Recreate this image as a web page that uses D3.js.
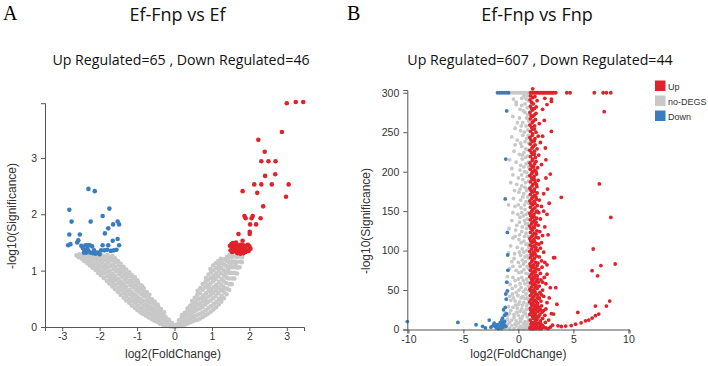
<!DOCTYPE html>
<html>
<head>
<meta charset="utf-8">
<script src="https://cdn.jsdelivr.net/npm/d3@7"></script>
<style>
  body { margin: 0; background: #fff; }
  svg { display: block; }
</style>
</head>
<body>
<svg width="708" height="366"></svg>
<script>
// ---- Panel A: Ef-Fnp vs Ef, points [log2FC, -log10(p)] ----
const upA = [
  [3.00,3.97],[3.24,3.99],[3.44,3.99],[2.87,3.46],[2.24,3.32],[2.41,3.11],[2.32,2.94],[2.51,2.94],[2.70,2.94],
  [2.42,2.68],[2.69,2.71],[1.82,2.41],[2.13,2.53],[2.32,2.53],[2.60,2.53],[3.05,2.53],[2.21,2.38],[2.98,2.31],
  [2.37,2.14],[1.87,1.97],[1.90,1.93],[2.09,1.97],[2.06,1.93],[2.30,1.93],[2.02,1.82],[2.18,1.82],[2.01,1.69],
  [2.01,1.65],[1.71,1.65],[1.82,1.53],
  [1.48,1.44],[1.52,1.47],[1.55,1.42],[1.58,1.46],[1.62,1.43],[1.66,1.47],[1.70,1.44],[1.73,1.40],[1.77,1.46],
  [1.80,1.42],[1.84,1.45],[1.88,1.41],[1.92,1.44],[1.96,1.46],[2.00,1.43],[1.50,1.36],[1.54,1.33],[1.58,1.37],
  [1.62,1.34],[1.66,1.38],[1.70,1.33],[1.74,1.36],[1.78,1.32],[1.82,1.35],[1.86,1.38],[1.90,1.33],[1.94,1.36],
  [1.98,1.35],[2.03,1.39],[1.60,1.40],[1.68,1.31],[1.76,1.30],[1.84,1.31],[1.56,1.49],[1.64,1.50]
];
const downA = [
  [-2.30,2.45],[-2.13,2.41],[-2.81,2.08],[-1.74,2.10],[-2.75,1.87],[-2.24,1.87],[-1.92,1.97],[-1.77,1.75],
  [-1.64,1.82],[-1.52,1.87],[-1.48,1.82],[-1.86,1.66],[-2.81,1.64],[-2.53,1.64],[-2.57,1.54],[-2.60,1.50],
  [-1.65,1.53],[-1.52,1.56],[-2.84,1.45],[-2.78,1.47],[-2.49,1.44],[-2.38,1.45],[-2.32,1.45],[-2.26,1.45],
  [-2.20,1.43],[-1.92,1.45],[-1.77,1.45],[-1.48,1.45],[-2.40,1.36],[-2.36,1.32],[-2.30,1.35],[-2.25,1.32],
  [-2.18,1.31],[-2.11,1.30],[-2.05,1.32],[-1.96,1.36],[-1.87,1.36],[-1.80,1.37],[-1.70,1.35],[-1.62,1.36],
  [-1.55,1.37],[-2.45,1.40],[-2.33,1.39],[-2.15,1.36],[-2.42,1.32],[-2.00,1.29]
];
const noneA = [
  [-2.62,1.27],[-2.56,1.24],[-2.54,1.29],[-2.48,1.21],[-2.46,1.27],[-2.41,1.17],[-2.39,1.24],[-2.37,1.29],
  [-2.33,1.13],[-2.31,1.20],[-2.30,1.26],[-2.26,1.09],[-2.25,1.16],[-2.23,1.23],[-2.24,1.29],
  [-2.19,1.05],[-2.18,1.12],[-2.16,1.20],[-2.17,1.27],[-2.11,1.01],[-2.10,1.08],[-2.09,1.15],[-2.08,1.22],[-2.10,1.28],
  [-2.04,0.96],[-2.03,1.03],[-2.02,1.10],[-2.01,1.18],[-2.03,1.25],
  [-1.97,0.92],[-1.96,0.99],[-1.95,1.07],[-1.94,1.14],[-1.96,1.21],[-1.95,1.28],
  [-1.89,0.87],[-1.88,0.95],[-1.87,1.02],[-1.86,1.10],[-1.88,1.18],[-1.87,1.25],
  [-1.81,0.82],[-1.80,0.90],[-1.79,0.98],[-1.80,1.06],[-1.78,1.14],[-1.81,1.21],[-1.79,1.28],
  [-1.74,0.77],[-1.73,0.84],[-1.72,0.92],[-1.73,1.00],[-1.71,1.08],[-1.74,1.16],[-1.72,1.23],
  [-1.66,0.72],[-1.65,0.80],[-1.64,0.87],[-1.66,0.95],[-1.63,1.03],[-1.65,1.11],[-1.64,1.19],[-1.66,1.26],
  [-1.59,0.67],[-1.58,0.75],[-1.57,0.83],[-1.59,0.91],[-1.56,0.99],[-1.58,1.07],[-1.57,1.15],[-1.59,1.22],
  [-1.51,0.62],[-1.50,0.70],[-1.49,0.78],[-1.51,0.86],[-1.48,0.94],[-1.50,1.02],[-1.49,1.10],[-1.51,1.17],
  [-1.44,0.57],[-1.43,0.65],[-1.42,0.73],[-1.44,0.81],[-1.41,0.89],[-1.43,0.97],[-1.42,1.05],[-1.44,1.12],
  [-1.36,0.52],[-1.35,0.60],[-1.34,0.68],[-1.36,0.76],[-1.33,0.84],[-1.35,0.92],[-1.34,1.00],[-1.36,1.07],
  [-1.29,0.47],[-1.28,0.55],[-1.27,0.63],[-1.29,0.71],[-1.26,0.79],[-1.28,0.87],[-1.27,0.95],[-1.29,1.02],
  [-1.21,0.43],[-1.20,0.50],[-1.19,0.58],[-1.21,0.66],[-1.18,0.74],[-1.20,0.82],[-1.19,0.90],[-1.21,0.97],
  [-1.14,0.38],[-1.13,0.46],[-1.12,0.54],[-1.14,0.62],[-1.11,0.70],[-1.13,0.78],[-1.12,0.86],[-1.14,0.92],
  [-1.06,0.34],[-1.05,0.42],[-1.04,0.50],[-1.06,0.58],[-1.03,0.66],[-1.05,0.74],[-1.04,0.82],[-1.06,0.88],
  [-0.99,0.30],[-0.98,0.38],[-0.97,0.46],[-0.99,0.54],[-0.96,0.62],[-0.98,0.70],[-0.97,0.78],[-0.99,0.83],
  [-0.91,0.26],[-0.90,0.34],[-0.89,0.42],[-0.91,0.50],[-0.88,0.58],[-0.90,0.66],[-0.89,0.74],
  [-0.84,0.23],[-0.83,0.30],[-0.82,0.38],[-0.84,0.46],[-0.81,0.54],[-0.83,0.62],[-0.82,0.68],
  [-0.76,0.20],[-0.75,0.27],[-0.74,0.34],[-0.76,0.41],[-0.73,0.48],[-0.75,0.56],[-0.74,0.62],
  [-0.69,0.17],[-0.68,0.24],[-0.67,0.31],[-0.69,0.38],[-0.66,0.45],[-0.68,0.52],[-0.67,0.57],
  [-0.61,0.14],[-0.60,0.21],[-0.59,0.28],[-0.61,0.35],[-0.58,0.42],[-0.60,0.49],
  [-0.54,0.11],[-0.53,0.18],[-0.52,0.25],[-0.54,0.32],[-0.51,0.39],[-0.53,0.45],
  [-0.46,0.09],[-0.45,0.15],[-0.44,0.22],[-0.46,0.29],[-0.43,0.35],[-0.45,0.40],
  [-0.39,0.06],[-0.38,0.12],[-0.37,0.19],[-0.39,0.26],[-0.36,0.32],
  [-0.31,0.04],[-0.30,0.10],[-0.29,0.16],[-0.31,0.22],[-0.28,0.26],
  [-0.24,0.03],[-0.23,0.08],[-0.22,0.13],[-0.24,0.18],
  [-0.16,0.02],[-0.15,0.06],[-0.14,0.10],[-0.16,0.13],
  [-0.09,0.01],[-0.08,0.04],[-0.07,0.07],[-0.01,0.00],[0.00,0.03],
  [-2.05,1.21],[-1.69,0.88],[-1.46,1.01],[-1.31,0.58],[-1.16,0.81],[-0.94,0.47],[-0.79,0.59],[-0.56,0.27],
  [-1.87,1.06],[-1.53,0.66],[-1.24,0.91],[-1.09,0.47],[-0.86,0.72],[-0.64,0.33],[-2.22,1.19],[-1.4,0.77],
  [0.06,0.01],[0.07,0.05],[0.13,0.02],[0.14,0.07],[0.12,0.12],
  [0.20,0.03],[0.21,0.09],[0.19,0.16],[0.20,0.21],
  [0.27,0.04],[0.28,0.11],[0.26,0.18],[0.27,0.25],
  [0.34,0.06],[0.35,0.13],[0.33,0.20],[0.34,0.27],[0.35,0.33],
  [0.41,0.08],[0.42,0.15],[0.40,0.22],[0.41,0.30],[0.42,0.38],
  [0.48,0.10],[0.49,0.17],[0.47,0.25],[0.48,0.33],[0.49,0.40],[0.47,0.46],
  [0.55,0.12],[0.56,0.20],[0.54,0.28],[0.55,0.36],[0.56,0.44],[0.54,0.52],
  [0.62,0.13],[0.63,0.22],[0.61,0.31],[0.62,0.40],[0.63,0.49],[0.61,0.57],[0.62,0.64],
  [0.69,0.15],[0.70,0.24],[0.68,0.33],[0.69,0.42],[0.70,0.51],[0.68,0.60],[0.69,0.69],
  [0.76,0.18],[0.77,0.27],[0.75,0.36],[0.76,0.46],[0.77,0.56],[0.75,0.66],[0.76,0.76],
  [0.83,0.21],[0.84,0.30],[0.82,0.40],[0.83,0.50],[0.84,0.60],[0.82,0.70],[0.83,0.80],[0.84,0.87],
  [0.90,0.24],[0.91,0.34],[0.89,0.44],[0.90,0.54],[0.91,0.64],[0.89,0.74],[0.90,0.84],[0.91,0.93],
  [0.97,0.27],[0.98,0.37],[0.96,0.47],[0.97,0.57],[0.98,0.67],[0.96,0.77],[0.97,0.87],[0.98,0.97],[0.96,1.03],
  [1.04,0.31],[1.05,0.41],[1.03,0.51],[1.04,0.61],[1.05,0.71],[1.03,0.81],[1.04,0.91],[1.05,1.01],[1.03,1.09],
  [1.11,0.35],[1.12,0.45],[1.10,0.55],[1.11,0.65],[1.12,0.75],[1.10,0.85],[1.11,0.95],[1.12,1.05],[1.10,1.13],
  [1.18,0.40],[1.19,0.50],[1.17,0.60],[1.18,0.70],[1.19,0.80],[1.17,0.90],[1.18,1.00],[1.19,1.10],[1.17,1.17],
  [1.25,0.45],[1.26,0.55],[1.24,0.65],[1.25,0.75],[1.26,0.85],[1.24,0.95],[1.25,1.05],[1.26,1.14],[1.24,1.21],
  [1.32,0.51],[1.33,0.61],[1.31,0.71],[1.32,0.81],[1.33,0.91],[1.31,1.01],[1.32,1.11],[1.33,1.20],
  [1.39,0.58],[1.40,0.68],[1.38,0.78],[1.39,0.88],[1.40,0.98],[1.38,1.08],[1.39,1.17],[1.40,1.24],
  [1.46,0.66],[1.47,0.76],[1.45,0.86],[1.46,0.96],[1.47,1.06],[1.45,1.15],[1.46,1.23],[1.47,1.28],
  [1.53,0.76],[1.54,0.86],[1.52,0.96],[1.53,1.06],[1.54,1.16],[1.52,1.24],[1.53,1.30],
  [1.60,0.86],[1.61,0.96],[1.59,1.06],[1.60,1.16],[1.61,1.25],
  [1.67,0.95],[1.68,1.05],[1.66,1.15],[1.67,1.24],[1.68,1.30],
  [1.74,1.06],[1.75,1.16],[1.73,1.25],[1.80,1.15],[1.81,1.24],
  [0.58,0.31],[0.79,0.51],[0.93,0.69],[1.07,0.86],[1.21,1.05],[1.36,0.96],[1.5,1.11],[0.86,0.45],
  [1.0,0.62],[1.15,0.7],[1.29,0.66],[1.43,1.02],[0.72,0.38],[1.63,1.11],[0.44,0.19],[1.22,0.48]
];

// ---- Panel B: Ef-Fnp vs Fnp ----
const upB = [
  // top row (capped at 300)
  [1.10,300],[1.25,300],[1.40,300],[1.55,300],[1.70,300],[1.85,300],[2.00,300],[2.15,300],[2.30,300],[2.45,300],
  [2.60,300],[2.75,300],[2.90,300],[3.05,300],[3.20,300],[3.40,300],[4.40,300],[4.70,300],[6.90,300],[7.70,300],
  [8.00,300],[8.40,300],[1.30,305],
  // main band
  [1.05,2],[1.20,4],[1.35,1],[1.50,3],[1.65,5],[1.80,2],[1.95,4],[2.10,1],[2.30,3],[2.50,2],[2.70,1],[2.90,3],
  [1.08,12],[1.22,9],[1.38,14],[1.52,10],[1.68,13],[1.85,8],[2.00,11],[2.20,14],[2.45,9],[2.75,12],
  [1.04,19],[1.18,22],[1.32,18],[1.47,21],[1.62,17],[1.78,23],[1.95,19],[2.15,22],[2.40,18],[3.00,20],
  [1.10,27],[1.25,30],[1.40,26],[1.56,29],[1.72,31],[1.90,27],[2.10,30],[2.50,26],
  [1.03,35],[1.17,38],[1.33,34],[1.48,37],[1.64,35],[1.82,39],[2.05,36],[2.60,34],
  [1.08,43],[1.24,46],[1.40,42],[1.58,45],[1.76,44],[1.96,47],[2.30,42],
  [1.05,51],[1.20,54],[1.36,50],[1.52,53],[1.70,52],[1.90,55],[2.20,50],[2.90,53],
  [1.10,59],[1.27,62],[1.43,58],[1.60,61],[1.80,60],[2.05,63],[2.50,58],
  [1.04,67],[1.20,70],[1.36,66],[1.53,69],[1.72,68],[2.00,71],[2.35,66],
  [1.09,75],[1.25,78],[1.42,74],[1.60,77],[1.85,76],[2.15,79],
  [1.05,83],[1.20,86],[1.38,82],[1.56,85],[1.78,84],[2.10,87],[2.60,82],
  [1.10,91],[1.28,94],[1.45,90],[1.65,93],[1.90,92],[3.20,91],
  [1.04,99],[1.20,102],[1.37,98],[1.55,101],[1.75,100],[2.00,103],[2.30,98],
  [1.08,107],[1.25,110],[1.43,106],[1.62,109],[1.85,108],
  [1.05,115],[1.22,118],[1.40,114],[1.60,117],[1.82,116],[2.20,119],
  [1.10,123],[1.28,126],[1.47,122],[1.68,125],[1.95,124],
  [1.04,131],[1.20,134],[1.38,130],[1.57,133],[1.80,132],[2.40,130],
  [1.08,139],[1.26,142],[1.45,138],[1.66,141],[2.00,140],
  [1.05,147],[1.22,150],[1.40,146],[1.60,149],[1.85,148],[2.60,146],
  [1.10,155],[1.30,158],[1.50,154],[1.72,157],[2.10,156],
  [1.04,163],[1.22,166],[1.42,162],[1.63,165],[1.90,164],
  [1.08,171],[1.27,174],[1.48,170],[1.70,173],[2.30,172],
  [1.05,179],[1.24,182],[1.45,178],[1.68,181],[2.65,178],
  [1.10,187],[1.30,190],[1.52,186],[1.80,189],
  [1.04,195],[1.22,198],[1.43,194],[1.65,197],[2.50,192],[2.90,197],
  [1.08,203],[1.28,206],[1.50,202],[1.75,205],
  [1.05,211],[1.25,214],[1.47,210],[2.10,209],
  [1.10,219],[1.32,222],[1.55,218],[1.85,221],
  [1.04,227],[1.24,230],[1.46,226],[1.70,229],
  [1.08,235],[1.30,238],[1.52,234],[2.00,237],
  [1.05,243],[1.26,246],[1.50,242],[1.80,245],
  [1.10,251],[1.32,254],[1.60,250],[3.00,251],
  [1.04,259],[1.25,262],[1.48,258],[1.90,261],
  [1.08,267],[1.30,270],[1.55,266],
  [1.05,275],[1.28,278],[1.60,274],[2.20,279],
  [1.10,283],[1.35,286],[1.62,282],
  [1.06,291],[1.30,294],[1.70,290],[2.40,293],[3.00,292],[3.00,289],
  // second pass over the band
  [1.15,7],[1.42,8],[1.28,16],[1.55,15],[1.12,25],[1.35,23],[1.60,25],[1.85,16],[2.00,25],[1.20,32],[1.45,31],
  [1.75,33],[1.30,40],[1.12,49],[1.50,48],[1.90,40],[1.32,57],[1.60,56],[1.18,64],[1.45,65],[1.75,64],[1.30,72],
  [1.55,73],[1.13,80],[1.40,79],[1.70,81],[1.30,88],[1.15,95],[1.50,96],[1.30,105],[1.60,104],[1.12,112],
  [1.45,112],[1.32,120],[1.60,121],[1.15,128],[1.45,129],[1.30,136],[1.60,136],[1.12,144],[1.42,143],[1.30,152],
  [1.70,150],[1.15,160],[1.50,160],[1.32,168],[1.60,168],[1.15,176],[1.45,175],[1.32,184],[1.62,184],[1.18,192],
  [1.45,190],[1.30,200],[1.60,200],[1.15,208],[1.38,206],[1.30,216],[1.60,213],[1.18,224],[1.45,222],[1.35,232],
  [1.15,240],[1.45,239],[1.30,248],[1.20,256],[1.45,254],[1.35,264],[1.15,271],[1.45,272],[1.20,280],[1.45,280],
  [1.20,288],[1.50,295],[1.10,296],
  [2.20,60],[2.40,85],[2.70,120],[2.30,150],[2.80,160],[2.50,215],[2.20,245],[2.35,265],[2.60,285],[2.80,40],
  [2.60,70],[2.10,110],[2.45,230],
  [1.10,1],[1.30,3],[1.60,1],[1.90,1],[2.20,5],[1.70,8],[1.45,5],[1.25,1],[2.05,7],[1.55,20],[1.85,28],[2.30,24],
  [1.70,40],[2.10,44],
  // far right
  [7.80,276],[7.36,184.5],[3.90,167.5],[8.40,142],[6.80,102],[8.80,83],[7.50,81],[6.70,74.5],[7.20,68],
  [8.30,36],[8.00,29.7],[7.00,29.7],[5.40,21.6],[7.30,19.5],[7.00,17.5],[6.70,14.5],[6.40,12],[6.10,11],
  [5.70,8.5],[5.20,6.8],[4.80,5],[4.30,4.3],[3.90,3.8],[3.60,4.6],[3.10,5.5],[3.30,91],[3.40,53],[3.50,32],[3.20,19.5]
];
const downB = [
  [-1.90,300],[-1.70,300],[-1.50,300],[-1.30,300],[-1.10,300],[-0.90,300],
  [-1.06,277],[-1.15,216],[-1.20,165.5],[-1.00,123],[-0.97,94.4],[-1.05,60],[-0.95,75],[-1.00,49],[-1.15,45],
  [-1.10,38.6],[-1.20,28],[-1.35,25],[-1.10,20],[-1.25,18],[-1.45,14.5],[-1.50,12],[-1.25,10],[-1.40,8],
  [-1.30,6],[-1.15,4],[-1.40,3],[-1.55,2],[-1.60,5],[-1.65,9],[-1.70,3],[-1.80,1],[-1.90,6],[-2.00,2],
  [-2.10,4],[-2.20,8],[-2.30,5],[-2.50,3],[-2.65,12],[-3.00,2],[-3.25,4],[-3.85,6],[-5.50,9],[-10.1,10]
];
const noneB = [
  [-0.80,300],[-0.60,300],[-0.40,300],[-0.20,300],[0.00,300],[0.20,300],[0.40,300],[0.60,300],[0.80,300],[0.95,300],
  [-0.20,288],[-0.20,285],[0.50,295],[0.70,292],[0.90,290],[0.30,284],[0.80,281],[0.60,286],
  [-0.50,270],[0.10,268],[0.60,275],[0.85,272],[0.40,262],[0.70,258],[0.95,264],[-0.30,255],[0.20,252],[0.55,250],[0.85,253],
  [-0.60,244],[-0.10,240],[0.40,246],[0.75,242],[0.95,236],[0.30,232],[0.65,229],[-0.40,226],[0.10,222],[0.50,224],[0.85,220],
  [-0.80,215],[-0.20,212],[0.35,216],[0.70,210],[0.95,206],[0.15,202],[0.55,200],[-0.50,196],[0.00,192],[0.80,194],[0.40,190],
  [-0.70,186],[-0.15,184],[0.30,182],[0.65,186],[0.90,178],[0.05,174],[0.50,172],[0.85,168],[-0.45,166],[0.20,164],[0.70,162],
  [-0.90,158],[-0.30,156],[0.25,154],[0.60,152],[0.90,148],[-0.05,146],[0.45,144],[0.80,140],[-0.60,138],[0.10,136],[0.65,134],[0.95,132],
  [-0.85,128],[-0.25,126],[0.30,124],[0.70,122],[0.90,118],[-0.50,116],[0.05,114],[0.50,112],[0.85,108],[-0.70,106],[-0.10,104],[0.35,102],[0.75,100],
  [-0.90,97],[-0.35,96],[0.20,94],[0.60,92],[0.92,90],[-0.60,86],[0.00,85],[0.45,83],[0.80,80],[-0.80,77],[-0.20,75],[0.30,73],[0.70,71],[0.95,70],
  [-1.00,67],[-0.50,66],[0.00,64],[0.45,62],[0.85,60],[-0.75,57],[-0.25,55],[0.25,53],[0.65,51],[0.95,49],[-1.05,47],[-0.55,45],[-0.05,43],[0.40,42],[0.80,40],
  [-1.10,38],[-0.70,37],[-0.30,36],[0.10,35],[0.50,34],[0.88,33],[-0.90,29],[-0.50,28],[-0.10,27],[0.30,26],[0.70,25],
  [-1.20,21],[-0.80,20],[-0.40,19],[0.00,18],[0.40,17],[0.80,16],[-1.00,13],[-0.60,12],[-0.20,11],[0.20,10.5],[0.60,10],[0.95,12],
  [-1.40,7],[-1.00,6],[-0.60,5],[-0.20,4.5],[0.20,4],[0.60,3.5],[0.90,5],[-1.20,2],[-0.80,1.5],[-0.40,1],[0.00,0.5],[0.40,1],[0.80,1.5],[-1.50,0.5],
  [0.55,298],[0.30,293],[0.85,296],[-0.45,292],[0.15,279],[0.45,277],[0.75,268],[-0.10,262],[0.25,258],[0.90,246],
  [0.60,238],[0.20,236],[-0.30,234],[0.80,228],[0.35,221],[0.65,218],[0.90,212],[0.20,208],[0.50,206],[-0.60,204],
  [0.75,199],[0.30,196],[0.90,188],[0.60,180],[0.15,178],[-0.35,176],[0.75,176],[0.40,168],[0.95,160],[0.55,158],
  [0.00,158],[0.30,148],[0.70,146],[-0.50,148],[0.15,142],[0.55,138],[0.85,134],[0.35,130],[-0.15,132],[0.75,128],
  [0.10,120],[0.55,118],[-0.30,118],[0.25,110],[0.70,108],[0.95,104],[0.50,98],[0.10,98],[0.80,94],[0.35,88],
  [-0.40,90],[0.65,86],[0.15,80],[0.90,78],[0.50,76],[-0.50,80],[0.05,72],[0.75,64],[0.30,66],[-0.30,62],
  [0.60,58],[0.15,58],[0.90,55],[-0.55,52],[0.45,48],[0.05,50],[-0.20,47],[0.70,45],[0.25,40],[-0.80,42],
  [0.90,38],[-0.45,40],[0.60,39],[0.35,31],[0.75,30],[-0.25,31],[0.00,32],[0.95,26],[-0.70,24],[0.50,22],
  [0.15,23],[-0.15,22],[0.65,20],[-1.00,18],[0.30,14],[-0.40,15],[0.80,9],[0.00,8],[0.45,7],[-0.80,9],
  [0.15,14],[-1.30,12],[0.70,6],[-0.30,7],[0.10,2],[0.60,1],[-1.10,3],[0.90,2]
];

// ---- ticks, labels ----
const ticksAx = [-3, -2, -1, 0, 1, 2, 3];
const ticksAy = [0, 1, 2, 3];
const ticksBx = [-10, -5, 0, 5, 10];
const ticksBy = [0, 50, 100, 150, 200, 250, 300];
const titles = ["Ef-Fnp vs Ef", "Ef-Fnp vs Fnp"];
const subtitles = ["Up Regulated=65 , Down Regulated=46", "Up Regulated=607 , Down Regulated=44"];
const legendLabels = ["Up", "no-DEGS", "Down"];

const colors = { up: "#e0222a", none: "#c8c8c8", down: "#3a7dbf" };
const legendKeys = ["up", "none", "down"];

const svg = d3.select("svg");

function drawPanel(area, pts) {
  const scX = d3.scaleLinear().domain(area.domX).range([area.left, area.right]);
  const scY = d3.scaleLinear().domain(area.domY).range([area.bottom, area.top]);

  // точки: сначала серые, затем синие и красные
  ["none", "down", "up"].forEach(k => {
    svg.append("g").selectAll("circle")
      .data(pts[k])
      .enter()
      .append("circle")
      .attr("cx", d => scX(d[0]))
      .attr("cy", d => scY(d[1]))
      .attr("r", area.r)
      .style("fill", colors[k]);
  });

  const axX = svg.append("g")
    .attr("transform", `translate(0, ${area.bottom})`)
    .call(d3.axisBottom(scX).tickValues(area.ticksX).tickSize(4).tickSizeOuter(4).tickPadding(2).tickFormat(d => String(d)));
  const axY = svg.append("g")
    .attr("transform", `translate(${area.left}, 0)`)
    .call(d3.axisLeft(scY).tickValues(area.ticksY).tickSize(4).tickSizeOuter(4).tickPadding(4).tickFormat(d => String(d)));
  [axX, axY].forEach(ax => {
    ax.selectAll("path, line").attr("stroke", "#555");
    ax.selectAll("text").attr("fill", "#333").style("font-family", "Liberation Sans, Arial, sans-serif").style("font-size", "10.5px");
  });

  svg.append("text")
    .attr("x", (area.left + area.right) / 2 + area.dxLabel)
    .attr("y", 358)
    .attr("text-anchor", "middle")
    .style("font-family", "Liberation Sans, Arial, sans-serif")
    .style("font-size", "12px")
    .attr("fill", "#333")
    .text("log2(FoldChange)");
  svg.append("text")
    .attr("transform", `translate(${area.yLabelX}, ${area.yLabelY}) rotate(-90)`)
    .attr("text-anchor", "middle")
    .style("font-family", "Liberation Sans, Arial, sans-serif")
    .style("font-size", "12px")
    .attr("fill", "#333")
    .text("-log10(Significance)");

  svg.append("text")
    .attr("x", area.letterX).attr("y", 20)
    .style("font-family", "Liberation Serif, serif")
    .style("font-size", "20px")
    .text(area.letter);
  svg.append("text")
    .attr("x", area.titleX).attr("y", 21)
    .attr("text-anchor", "middle")
    .style("font-family", "Open Sans, sans-serif")
    .style("font-size", "18px")
    .attr("fill", "#111")
    .text(area.title);
  svg.append("text")
    .attr("x", area.subX).attr("y", 65)
    .attr("text-anchor", "middle")
    .style("font-family", "Open Sans, sans-serif")
    .style("font-size", "14.2px")
    .attr("fill", "#111")
    .text(area.subtitle);
}

drawPanel({
  left: 45, right: 304, top: 103.2, bottom: 327, domX: [-3.46, 3.46], domY: [0, 3.97],
  ticksX: ticksAx, ticksY: ticksAy, r: 2.3, dxLabel: -1.5, yLabelX: 16, yLabelY: 216,
  letter: "A", letterX: 3, title: titles[0], titleX: 177.5, subtitle: subtitles[0], subX: 181
}, { up: upA, down: downA, none: noneA });

drawPanel({
  left: 407.3, right: 629.5, top: 90, bottom: 329.5, domX: [-10.1, 10.1], domY: [0, 303.5],
  ticksX: ticksBx, ticksY: ticksBy, r: 1.9, dxLabel: 0, yLabelX: 370, yLabelY: 221,
  letter: "B", letterX: 347, title: titles[1], titleX: 537, subtitle: subtitles[1], subX: 540
}, { up: upB, down: downB, none: noneB });

// легенда
const legend = svg.append("g").attr("transform", "translate(655, 80.5)");
legendLabels.forEach((lab, i) => {
  legend.append("rect")
    .attr("x", 0).attr("y", i * 15)
    .attr("width", 10.5).attr("height", 10.5)
    .style("fill", colors[legendKeys[i]]);
  legend.append("text")
    .attr("x", 13).attr("y", i * 15 + 9)
    .style("font-family", "Liberation Sans, Arial, sans-serif")
    .style("font-size", "9px")
    .attr("fill", "#333")
    .text(lab);
});
</script>
</body>
</html>
